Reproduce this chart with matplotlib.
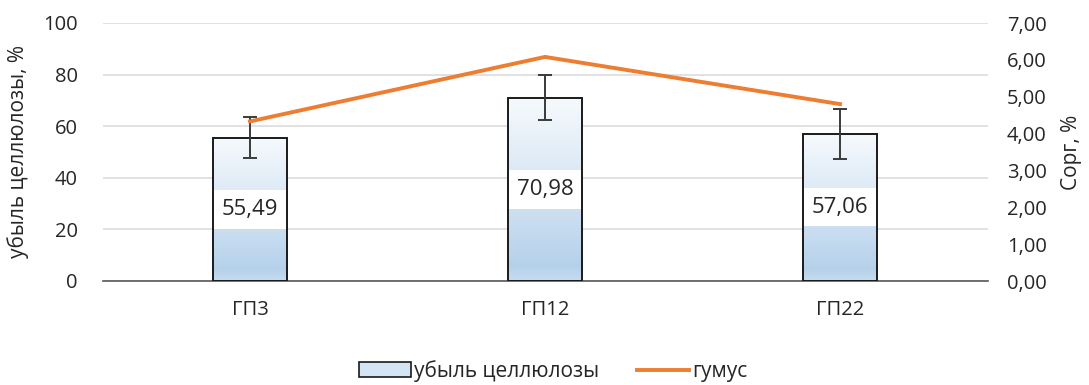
import matplotlib
matplotlib.use("Agg")
import matplotlib.pyplot as plt
import numpy as np
from matplotlib.colors import LinearSegmentedColormap
from matplotlib.patches import Rectangle, Patch
from matplotlib.lines import Line2D

plt.rcParams['font.family'] = ['Open Sans', 'DejaVu Sans']

categories = ['ГП3', 'ГП12', 'ГП22']
cellulose = [55.49, 70.98, 57.06]
cellulose_err = [8.0, 8.7, 9.7]
humus = [4.33, 6.08, 4.80]
value_labels = ['55,49', '70,98', '57,06']
left_ticks = [0, 20, 40, 60, 80, 100]
right_ticks = [0, 1, 2, 3, 4, 5, 6, 7]
right_tick_labels = ['0,00', '1,00', '2,00', '3,00', '4,00', '5,00', '6,00', '7,00']

fig = plt.figure(figsize=(10.89, 3.85), dpi=100)
ax = fig.add_axes([102.5/1089, 1-281/385, 885/1089, 258/385])
ax2 = ax.twinx()

x = np.arange(len(categories)) + 0.5
w = 0.25

cmap = LinearSegmentedColormap.from_list('g', [
    (0.0, '#c6dcf0'), (0.08, '#b5d1ea'), (0.45, '#d2e3f3'), (1.0, '#f6fafd')])
grad = np.linspace(0, 1, 256).reshape(-1, 1)

bars = ax.bar(x, cellulose, width=w, facecolor='none', edgecolor='#1a1a1a',
              linewidth=1.4, zorder=4)
for b, v, lab in zip(bars, cellulose, value_labels):
    x0 = b.get_x()
    ax.imshow(grad, extent=[x0, x0 + w, 0, v], origin='lower', aspect='auto',
              cmap=cmap, zorder=2, interpolation='bilinear')
    ax.add_patch(Rectangle((x0, v/2 - 7.4), w, 14.8, facecolor='white',
                           edgecolor='none', zorder=3))
    ax.text(x0 + w/2, v/2, lab, ha='center', va='center', fontsize=16,
            color='#262626', zorder=5)

ax.errorbar(x, cellulose, yerr=cellulose_err, fmt='none', ecolor='#3a3a3a',
            elinewidth=1.4, capsize=5, capthick=1.4, zorder=5)

ax.set_xlim(0, 3)
ax.set_ylim(0, 100)
ax.set_yticks(left_ticks)
ax.set_yticklabels([str(t) for t in left_ticks])
ax.set_xticks(x)
ax.set_xticklabels(categories)
ax.grid(axis='y', color='#dedede', linewidth=1.3, zorder=0)
ax.set_axisbelow(True)
for s in ['top', 'right', 'left']:
    ax.spines[s].set_visible(False)
ax.spines['bottom'].set_color('#595959')
ax.spines['bottom'].set_linewidth(1.2)
ax.tick_params(axis='both', length=0, labelsize=14.5, colors='#262626')
ax.tick_params(axis='x', pad=14)
ax.tick_params(axis='y', pad=18)
ax.set_ylabel('убыль целлюлозы, %', fontsize=15, color='#262626', labelpad=10)

ax2.plot(x, humus, color='#ed7d31', linewidth=2.8, zorder=6)
ax2.set_ylim(0, 7)
ax2.set_yticks(right_ticks)
ax2.set_yticklabels(right_tick_labels)
for s in ax2.spines.values():
    s.set_visible(False)
ax2.tick_params(axis='y', length=0, labelsize=14.5, colors='#262626', pad=14)
ax2.set_ylabel('Сорг, %', fontsize=15, color='#262626', labelpad=10)

handles = [Patch(facecolor='#d3e4f4', edgecolor='#1a1a1a', linewidth=1.2),
           Line2D([0], [0], color='#ed7d31', linewidth=2.8)]
fig.legend(handles, ['убыль целлюлозы', 'гумус'], loc='center',
           bbox_to_anchor=(553/1089, 1-371/385), ncol=2, frameon=False,
           fontsize=15, handlelength=2.5, handletextpad=0.15, columnspacing=1.8,
           labelcolor='#262626')

fig.savefig('out.png', dpi=100)
